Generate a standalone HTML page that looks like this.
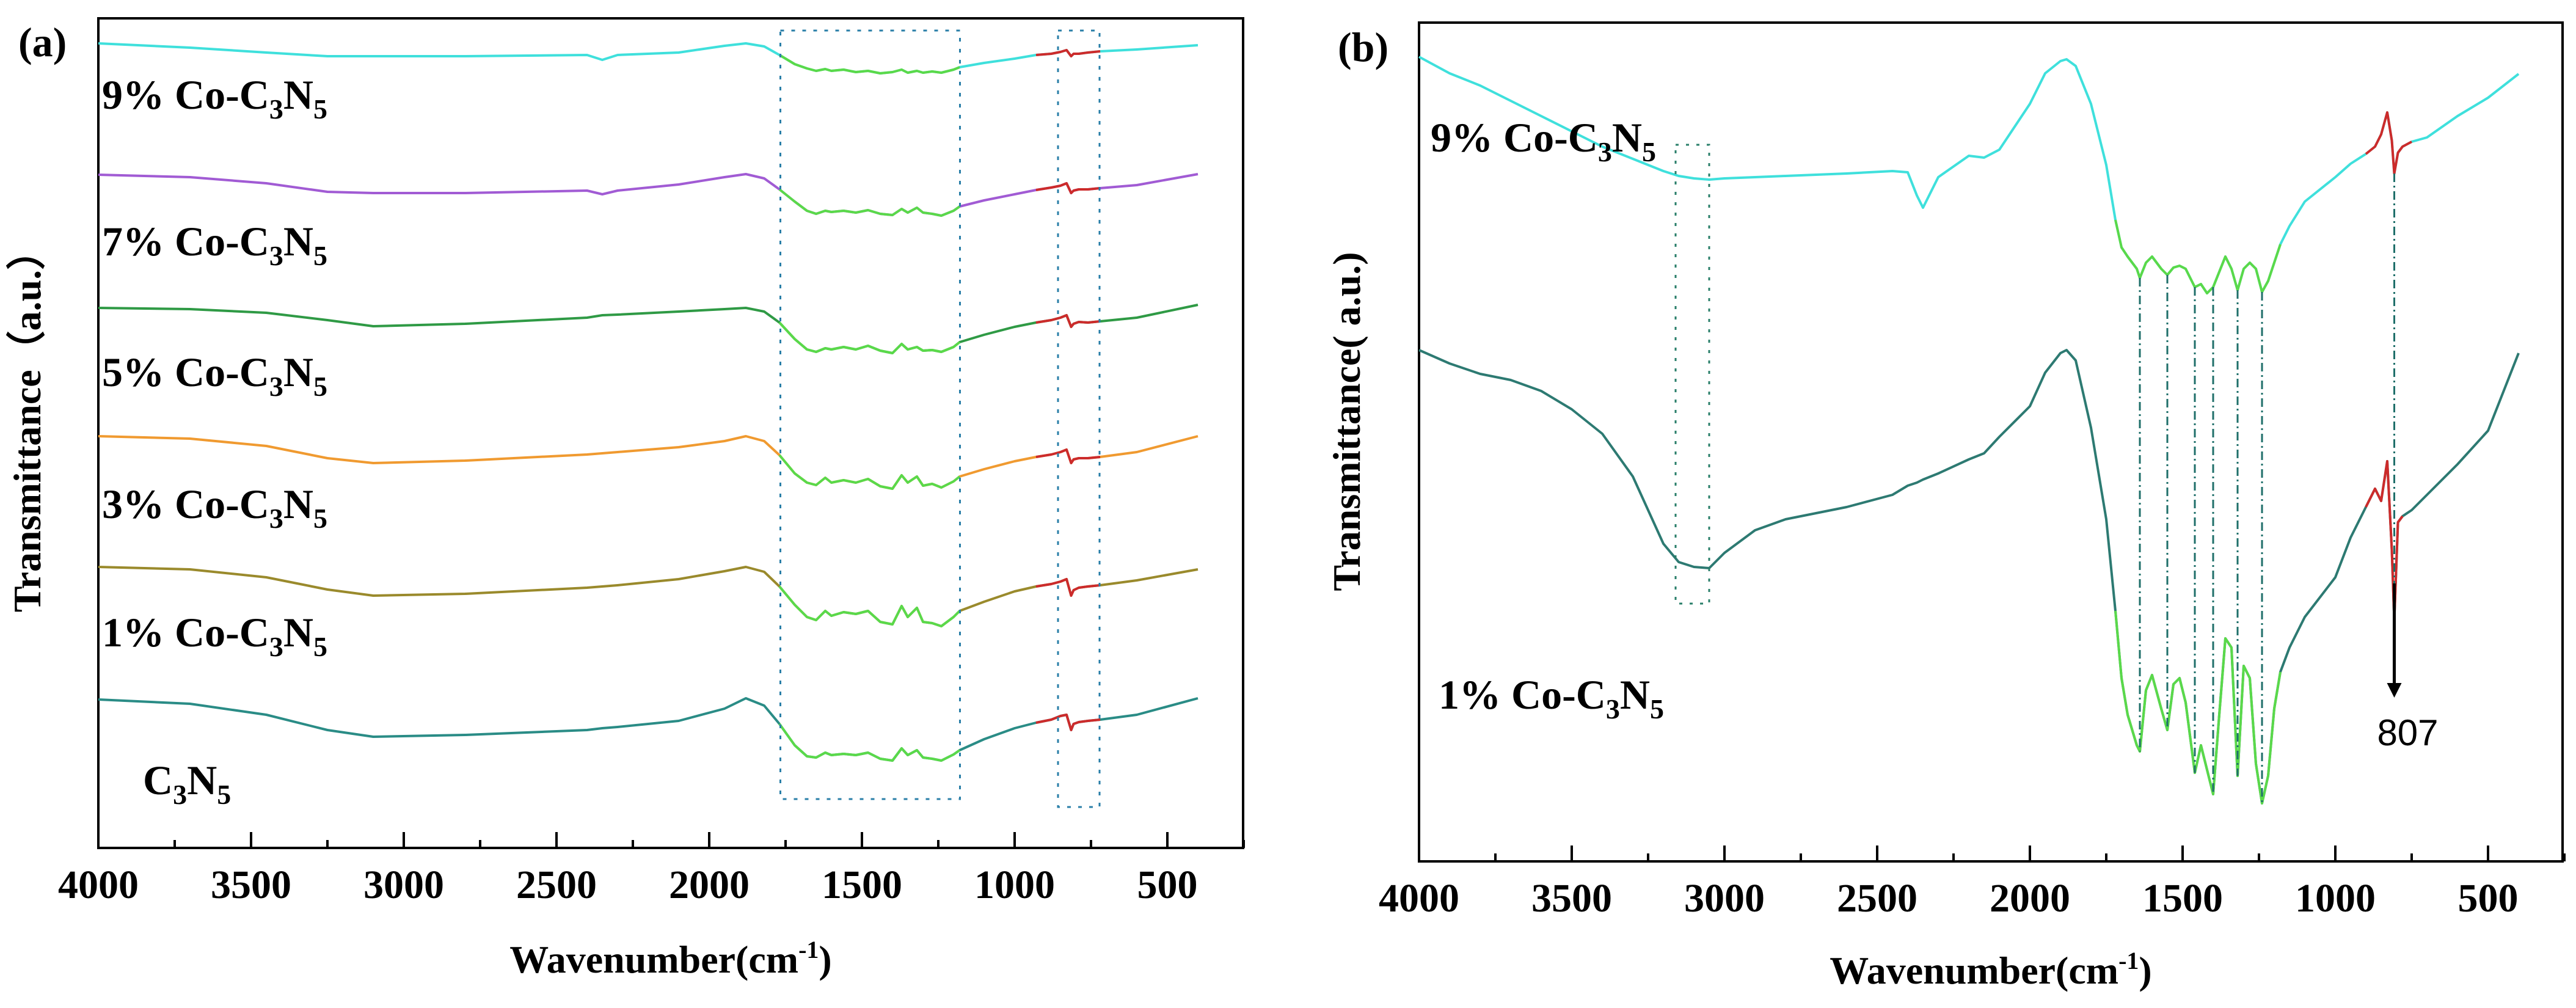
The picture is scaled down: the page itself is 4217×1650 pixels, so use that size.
<!DOCTYPE html>
<html><head><meta charset="utf-8"><style>
html,body{margin:0;padding:0;background:#fff;}
svg{display:block;font-family:"Liberation Serif",serif;}
.tick{font-weight:bold;font-size:66px;}
.ttl{font-weight:bold;font-size:64px;}
.lab{font-weight:bold;font-size:68px;}
</style></head><body>
<svg id="chart" width="4217" height="1650" viewBox="0 0 4217 1650" xmlns="http://www.w3.org/2000/svg">
<rect width="4217" height="1650" fill="#fff"/>
<g id="pa"></g>
<g id="pb"></g>
</svg>
<script>
// ---------- data: panel (a) ----------
const wnA = [4000,3700,3450,3250,3100,2800,2400,2350,2300,2100,1950,1880,1820,1770,1720,1680,1650,1620,1600,1560,1520,1480,1440,1400,1370,1350,1320,1300,1270,1240,1200,1180,1100,1000,930,880,850,830,815,807,790,760,720,600,400];
const a9 = [1314,1307,1299,1293,1293,1293,1295,1287,1295,1299,1310,1314,1309,1295,1280,1273,1269,1272,1269,1271,1267,1269,1265,1267,1271,1266,1269,1266,1268,1266,1271,1275,1282,1289,1295,1297,1300,1303,1293,1297,1297,1299,1301,1304,1311];
const a7 = [1099,1095,1085,1071,1069,1069,1073,1067,1073,1083,1095,1100,1093,1075,1055,1040,1035,1040,1038,1040,1037,1041,1035,1033,1043,1037,1045,1037,1035,1032,1040,1047,1057,1067,1074,1078,1081,1085,1069,1073,1075,1075,1077,1082,1100];
const a5 = [881,879,873,861,851,855,865,869,870,875,879,881,875,857,830,813,809,815,813,817,813,819,811,807,822,813,817,811,812,809,817,825,837,850,857,861,865,869,850,855,858,857,859,865,886];
const a3 = [671,667,655,635,627,631,641,643,645,653,663,671,663,640,610,595,591,603,595,599,595,601,589,585,607,595,605,590,593,587,597,605,617,630,637,641,645,649,627,633,635,635,637,645,671];
const a1 = [457,453,440,420,410,413,423,425,427,437,450,457,449,425,395,375,370,385,377,383,380,385,367,363,393,375,390,367,365,360,375,385,400,417,425,429,433,437,410,419,423,425,427,435,453];
const a0 = [240,233,215,190,179,182,190,193,195,205,225,242,230,200,165,147,145,153,149,151,149,153,143,140,160,149,157,145,143,140,150,157,175,193,202,207,213,215,190,200,203,205,207,215,242];
const namesA = ["9% Co-C3N5","7% Co-C3N5","5% Co-C3N5","3% Co-C3N5","1% Co-C3N5","C3N5"];
const xTicks = [4000,3500,3000,2500,2000,1500,1000,500];
const xMinor = [3750,3250,2750,2250,1750,1250,750,250];
// ---------- data: panel (b) ----------
const wnB = [4000,3900,3800,3700,3600,3500,3400,3300,3200,3150,3100,3050,3000,2900,2800,2600,2450,2400,2370,2350,2300,2200,2150,2100,2000,1950,1900,1880,1850,1800,1750,1720,1700,1680,1650,1640,1620,1600,1570,1550,1530,1510,1490,1460,1440,1420,1400,1380,1360,1340,1320,1300,1280,1260,1240,1220,1200,1180,1150,1100,1000,950,900,870,850,830,815,807,795,780,750,700,600,500,400];
const b9 = [1307,1280,1260,1235,1210,1185,1160,1140,1120,1112,1108,1106,1108,1110,1112,1116,1120,1118,1080,1060,1110,1145,1142,1155,1230,1280,1300,1303,1292,1230,1130,1040,995,980,960,945,970,980,960,950,962,965,960,930,935,920,930,955,980,960,925,960,970,960,922,940,970,1000,1030,1070,1110,1132,1148,1160,1180,1216,1170,1116,1150,1160,1168,1175,1210,1240,1279];
const b1 = [827,805,788,778,760,730,690,620,510,480,472,470,495,532,550,570,590,605,610,615,625,648,658,685,735,790,822,827,810,700,550,400,290,230,180,170,270,295,240,205,280,290,250,135,180,140,100,230,355,340,130,310,290,150,85,130,240,300,340,390,455,520,570,600,580,645,500,385,545,555,565,590,640,695,822];
const peaksB = [1640,1550,1460,1400,1320,1240];
const markB = 807;
const markLabel = "807";

const NS = "http://www.w3.org/2000/svg";
function mk(tag, attrs, parent){const e=document.createElementNS(NS,tag);for(const k in attrs)e.setAttribute(k,attrs[k]);parent.appendChild(e);return e;}

function makePanel(g, P){
  const xS = w => P.x0 + (4000 - w) * 0.5;
  const yS = v => P.base - v;
  const fr = mk('rect',{x:P.x0,y:P.top,width:P.x1-P.x0,height:P.bot-P.top,fill:'none',stroke:'#000','stroke-width':4},g);
  
  
  xTicks.forEach(t=>{
    const l=mk('line',{x1:xS(t),x2:xS(t),y1:P.bot,y2:P.bot-26,stroke:'#000','stroke-width':4},g);
    
    
    const tx=mk('text',{x:xS(t),y:P.bot+82,'text-anchor':'middle','class':'tick'},g);
    tx.textContent=t;
    
    
  });
  xMinor.forEach(t=>{
    const l=mk('line',{x1:xS(t),x2:xS(t),y1:P.bot,y2:P.bot-13,stroke:'#000','stroke-width':4},g);
    
    
  });
  const xt=mk('text',{x:(P.x0+P.x1)/2,y:P.xlabY,'text-anchor':'middle','class':'ttl'},g);
  xt.innerHTML='Wavenumber(cm<tspan dy="-24" font-size="40">-1</tspan><tspan dy="24">)</tspan>';
  
  
  const yt=mk('text',{x:0,y:0,'text-anchor':'middle','class':'ttl',transform:`translate(${P.ylabX},${P.ylabY}) rotate(-90)`},g);
  yt.textContent=P.ytitle;
  
  
  const pl=mk('text',{x:P.plX,y:P.plY,'class':'lab','font-size':'58'},g);
  pl.textContent=P.panelLabel;
  
  
  return {xS,yS};
}
function pts(wn, vals, xS, yS, lo, hi){
  const r=[];wn.forEach((w,i)=>{if(w<=hi&&w>=lo)r.push(xS(w).toFixed(1)+','+yS(vals[i]).toFixed(1));});return r.join(' ');
}
function drawCurve(g, wn, vals, color, S, greenR, redR, name){
  const full=mk('polyline',{points:pts(wn,vals,S.xS,S.yS,0,9999),fill:'none',stroke:color,'stroke-width':4,'stroke-linejoin':'round'},g);
  
  
  const gr=mk('polyline',{points:pts(wn,vals,S.xS,S.yS,greenR[0],greenR[1]),fill:'none',stroke:'#5ad94a','stroke-width':4,'stroke-linejoin':'round'},g);
  
  
  const rd=mk('polyline',{points:pts(wn,vals,S.xS,S.yS,redR[0],redR[1]),fill:'none',stroke:'#cc2b2b','stroke-width':4,'stroke-linejoin':'round'},g);
  
  
}
function label(g, x, y, txt, name){
  const t=mk('text',{x:x,y:y,'class':'lab'},g);
  const m=txt.replace('C3N5','');
  t.innerHTML=m+'C<tspan dy="16" font-size="46">3</tspan><tspan dy="-16">N</tspan><tspan dy="16" font-size="46">5</tspan>';
  
  
}

// ---------- panel (a) ----------
const ga=document.getElementById('pa');
const SA=makePanel(ga,{x0:161,x1:2035,top:30,bot:1388,base:1385,xlabY:1592,ylabX:66,ylabY:690,ytitle:'Transmittance（a.u.）',plX:30,plY:92,panelLabel:'(a)'});
const seriesA=[a9,a7,a5,a3,a1,a0];
const colorsA=['#3fe0dc','#a15bd4','#2f9a45','#f09a30','#9a8a2c','#2a8c86'];
const labY=[178,418,632,848,1058,1300];
const labX=[167,167,167,167,167,234];
seriesA.forEach((s,i)=>{
  drawCurve(ga,wnA,s,colorsA[i],SA,[1180,1770],[720,930],'curve-a-'+i);
  label(ga,labX[i],labY[i],namesA[i],'series-label-a-'+i);
});
const boxA1=[1767,1179,1335,77], boxA2=[858,722,1335,64];
[boxA1,boxA2].forEach((b,i)=>{
  const r=mk('rect',{x:SA.xS(b[0]),y:SA.yS(b[2]),width:SA.xS(b[1])-SA.xS(b[0]),height:SA.yS(b[3])-SA.yS(b[2]),fill:'none',stroke:'#2a7fa8','stroke-width':3,'stroke-dasharray':'6 12'},ga);
  
  
});

// ---------- panel (b) ----------
const gb=document.getElementById('pb');
const SB=makePanel(gb,{x0:2323,x1:4195,top:37,bot:1410,base:1400,xlabY:1610,ylabX:2226,ylabY:690,ytitle:'Transmittance( a.u.)',plX:2190,plY:100,panelLabel:'(b)'});
drawCurve(gb,wnB,b9,'#3fe0dc',SB,[1180,1720],[720,920],'curve-b-9pct');
drawCurve(gb,wnB,b1,'#2d7a72',SB,[1180,1720],[760,920],'curve-b-1pct');
label(gb,2342,248,'9% Co-C3N5','series-label-b-9pct');
label(gb,2355,1160,'1% Co-C3N5','series-label-b-1pct');
const boxB=[3160,3050,1163,412];
const rb=mk('rect',{x:SB.xS(boxB[0]),y:SB.yS(boxB[2]),width:SB.xS(boxB[1])-SB.xS(boxB[0]),height:SB.yS(boxB[3])-SB.yS(boxB[2]),fill:'none',stroke:'#2a7f6a','stroke-width':3,'stroke-dasharray':'5 12'},gb);


peaksB.forEach((p,i)=>{
  const k=wnB.indexOf(p);
  const l=mk('line',{x1:SB.xS(p),x2:SB.xS(p),y1:SB.yS(b9[k]),y2:SB.yS(b1[k]),stroke:'#1f6f6a','stroke-width':3,'stroke-dasharray':'14 6 3 6'},gb);
  
  
});
const km=wnB.indexOf(markB);
const ml=mk('line',{x1:SB.xS(markB),x2:SB.xS(markB),y1:SB.yS(b9[km]),y2:SB.yS(b1[km]),stroke:'#1f6f6a','stroke-width':3,'stroke-dasharray':'14 6 3 6'},gb);


const ar=mk('line',{x1:SB.xS(markB),x2:SB.xS(markB),y1:SB.yS(b1[km])-60,y2:1122,stroke:'#000','stroke-width':5},gb);


const ah=mk('polygon',{points:`${SB.xS(markB)-12},1118 ${SB.xS(markB)+12},1118 ${SB.xS(markB)},1142`,fill:'#000'},gb);


const t807=mk('text',{x:SB.xS(markB)+22,y:1220,'text-anchor':'middle','font-family':'Liberation Sans, sans-serif','font-size':'60'},gb);
t807.textContent=markLabel;


</script>
</body></html>
